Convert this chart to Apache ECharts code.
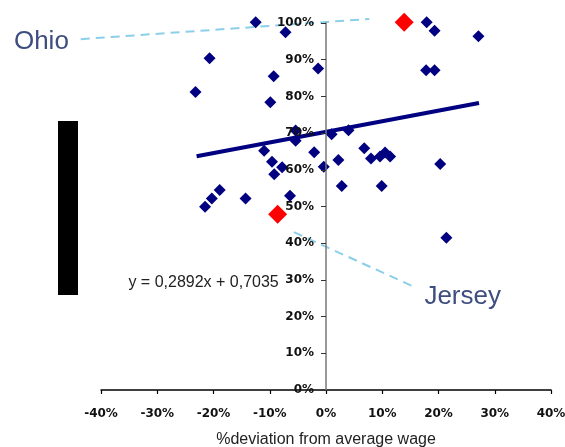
<!DOCTYPE html>
<html><head><meta charset="utf-8">
<script src="https://cdn.jsdelivr.net/npm/echarts@6/dist/echarts.min.js"></script>
<style>html,body{margin:0;padding:0;background:#fff}#c{width:565px;height:447px}</style>
</head><body><div id="c"></div>
<script>
// % deviation from average wage (x) vs share (y), in percent
const regionPoints = [
  [-12.5,100.2],[-7.2,97.5],[-20.7,90.4],[-9.3,85.5],[-1.4,87.6],[-23.2,81.2],[-9.9,78.4],
  [-5.4,70.7],[-5.4,67.9],[-11.0,65.2],[-9.6,62.2],[-7.8,60.7],[-9.2,58.8],[-2.1,64.8],[-0.4,60.8],
  [-18.9,54.5],[-20.3,52.2],[-21.5,49.9],[-14.3,52.2],[-6.4,52.9],
  [17.9,100.2],[19.3,97.9],[27.1,96.4],[17.8,87.1],[19.3,87.1],
  [1.0,69.7],[4.0,70.8],[6.8,65.9],[8.0,63.1],[9.6,63.6],[10.5,64.7],[11.4,63.6],
  [2.2,62.7],[2.8,55.6],[9.9,55.6],[20.3,61.6],[21.4,41.5]
];
const highlightPoints = [[13.9,100.2],[-8.6,47.9]];   // Ohio, Jersey
const trendLine = [[-23.0,63.7],[27.2,78.2]];         // y = 0,2892x + 0,7035
const ohioCallout = [[-43.6,95.6],[7.7,101.1]];
const jerseyCallout = [[-5.7,43.0],[16.1,27.8]];
const ohioLabelPos = [-50.6,95.0];
const jerseyLabelPos = [24.3,25.3];
const equationPos = [-8.4,29.2];
const equationText = 'y = 0,2892x + 0,7035';
const xTickMin = -40, xTickMax = 40, xTickStep = 10;
const yTickMin = 0, yTickMax = 100, yTickStep = 10;
const xAxisTitle = '%deviation from average wage';

const chart = echarts.init(document.getElementById('c'));
const tickFont = {fontFamily:'DejaVu Sans', fontWeight:'bold', fontSize:12, color:'#111'};
const gridLeft = 101;
function build(yOffset){
  return {
    animation:false,
    backgroundColor:'#fff',
    grid:{left:gridLeft, right:14, top:23, bottom:57, containLabel:false, outerBoundsMode:'none'},
    xAxis:{
      type:'value', min:xTickMin, max:xTickMax, interval:xTickStep,
      axisLine:{show:true, onZero:true, lineStyle:{color:'#000', width:1.5}},
      axisTick:{show:true, inside:false, length:4, lineStyle:{color:'#000', width:1.2}},
      axisLabel:Object.assign({formatter:'{value}%', margin:18}, tickFont),
      splitLine:{show:false},
      name:xAxisTitle, nameLocation:'middle', nameGap:42,
      nameTextStyle:{fontFamily:'Liberation Sans', fontSize:16, color:'#222'}
    },
    yAxis:{
      type:'value', min:yTickMin, max:yTickMax, interval:yTickStep, z:10,
      offset:yOffset,
      axisLine:{show:true, onZero:false, lineStyle:{color:'#777', width:1.5}},
      axisTick:{show:true, inside:false, length:5, lineStyle:{color:'#333', width:1}},
      axisLabel:Object.assign({formatter:'{value}%', margin:12}, tickFont),
      splitLine:{show:false}
    },
    series:[
      {type:'line', data:trendLine, symbol:'none', clip:false, z:2,
       lineStyle:{color:'#000080', width:4}},
      {type:'scatter', data:regionPoints, symbol:'diamond', symbolSize:12, clip:false, z:3,
       itemStyle:{color:'#000080', opacity:1}},
      {type:'scatter', data:highlightPoints, symbol:'diamond', symbolSize:19, clip:false, z:3,
       itemStyle:{color:'#ff0000', opacity:1}}
    ]
  };
}
chart.setOption(build(0));
const p = v => chart.convertToPixel({gridIndex:0}, v);
const zeroX = p([0,0])[0];
chart.setOption({yAxis:{offset:-(zeroX - gridLeft)}});
const ohioP = p(ohioLabelPos), jerseyP = p(jerseyLabelPos), eqP = p(equationPos);
const o1 = p(ohioCallout[0]), o2 = p(ohioCallout[1]);
const j1 = p(jerseyCallout[0]), j2 = p(jerseyCallout[1]);
const dash = {stroke:'#8ccfe8', lineWidth:2, lineDash:[9,6], fill:null};
chart.setOption({
  graphic:[
    {type:'line', z:1, shape:{x1:o1[0], y1:o1[1], x2:o2[0], y2:o2[1]}, style:dash},
    {type:'line', z:1, shape:{x1:j1[0], y1:j1[1], x2:j2[0], y2:j2[1]}, style:dash},
    {type:'rect', shape:{x:58, y:121, width:20, height:174}, style:{fill:'#000'}},
    {type:'text', x:ohioP[0], y:ohioP[1], style:{text:'Ohio', fontFamily:'Liberation Sans', fontSize:26, fill:'#3E4E7E', align:'center', verticalAlign:'middle'}},
    {type:'text', x:jerseyP[0], y:jerseyP[1], style:{text:'Jersey', fontFamily:'Liberation Sans', fontSize:26, fill:'#3E4E7E', align:'center', verticalAlign:'middle'}},
    {type:'text', x:eqP[0], y:eqP[1], style:{text:equationText, fontFamily:'Liberation Sans', fontSize:16, fill:'#222', align:'right', verticalAlign:'middle'}}
  ]
});
</script></body></html>
